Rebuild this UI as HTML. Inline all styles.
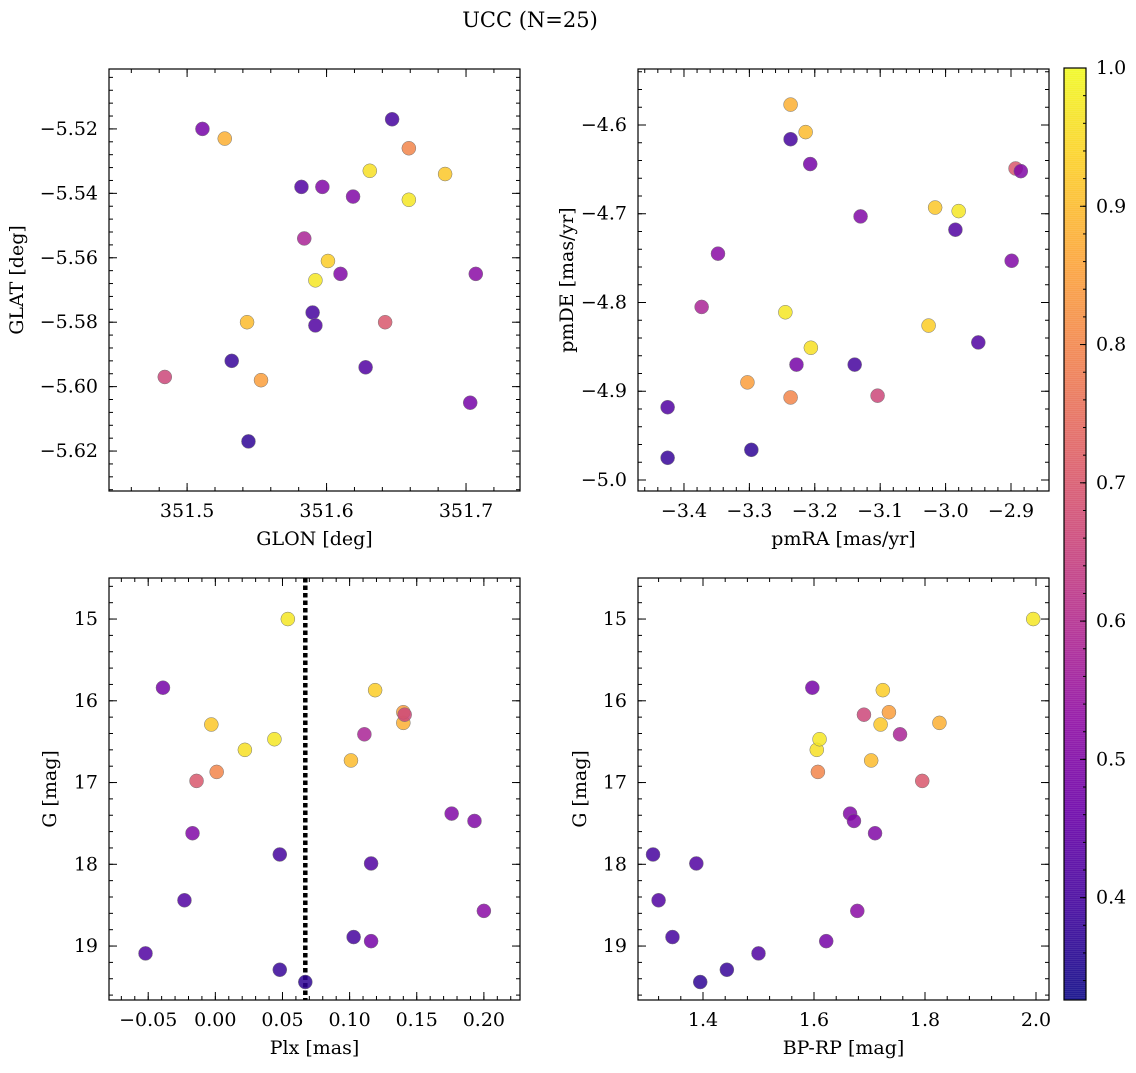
<!DOCTYPE html>
<html><head><meta charset="utf-8"><style>
body{margin:0;background:#fff}
svg text{font-family:"DejaVu Serif","Liberation Serif",serif;fill:#000}
</style></head><body>
<svg id="fig" width="1136" height="1068" xmlns="http://www.w3.org/2000/svg">
<text x="530" y="27" font-size="21" text-anchor="middle">UCC (N=25)</text>
</svg>
<script>
const glon=[351.659,351.685,351.631,351.592,351.601,351.527,351.543,351.553,351.659,351.642,351.484,351.584,351.511,351.597,351.619,351.610,351.707,351.703,351.647,351.582,351.628,351.590,351.592,351.532,351.544];
const glat=[-5.542,-5.534,-5.533,-5.567,-5.561,-5.523,-5.580,-5.598,-5.526,-5.580,-5.597,-5.554,-5.520,-5.538,-5.541,-5.565,-5.565,-5.605,-5.517,-5.538,-5.594,-5.577,-5.581,-5.592,-5.617];
const pmra=[-2.980,-3.016,-3.206,-3.245,-3.026,-3.237,-3.214,-3.303,-3.237,-2.893,-3.104,-3.373,-3.207,-2.885,-3.130,-2.899,-3.348,-3.228,-3.237,-2.985,-3.425,-3.139,-2.950,-3.425,-3.297];
const pmde=[-4.697,-4.693,-4.851,-4.811,-4.826,-4.577,-4.608,-4.890,-4.907,-4.649,-4.905,-4.805,-4.644,-4.652,-4.703,-4.753,-4.745,-4.870,-4.616,-4.718,-4.918,-4.870,-4.845,-4.975,-4.966];
const plx=[0.054,-0.003,0.022,0.044,0.119,0.140,0.101,0.140,0.001,-0.014,0.141,0.111,-0.039,-0.017,0.176,0.193,0.200,0.116,0.048,0.116,-0.023,0.103,-0.052,0.048,0.067];
const gmag=[15.0,16.29,16.6,16.47,15.87,16.27,16.73,16.14,16.87,16.98,16.17,16.41,15.84,17.62,17.38,17.47,18.57,18.94,17.88,17.99,18.44,18.89,19.09,19.29,19.44];
const bprp=[1.995,1.72,1.605,1.61,1.724,1.826,1.703,1.735,1.607,1.795,1.69,1.755,1.597,1.71,1.665,1.672,1.678,1.622,1.31,1.388,1.32,1.345,1.5,1.443,1.395];
const prob=[0.97,0.92,0.96,0.97,0.93,0.88,0.9,0.85,0.8,0.7,0.66,0.58,0.48,0.5,0.5,0.5,0.52,0.48,0.4,0.42,0.42,0.4,0.42,0.38,0.37];
const plxLine=0.067;
const cbTicks=[0.4,0.5,0.6,0.7,0.8,0.9,1.0];

const NS="http://www.w3.org/2000/svg";
const svg=document.getElementById('fig');
function mk(tag,attrs,parent){const e=document.createElementNS(NS,tag);for(const k in attrs)e.setAttribute(k,attrs[k]);(parent||svg).appendChild(e);return e;}
const stops=[[13,8,135],[65,4,157],[106,0,168],[143,13,164],[177,42,144],[204,71,120],[225,100,98],[242,132,75],[252,166,54],[252,206,37],[240,249,33]];
function plasma(t){t=Math.max(0,Math.min(1,t));const f=t*10,i=Math.min(9,Math.floor(f)),r=f-i;const a=stops[i],b=stops[i+1];return 'rgb('+a.map((v,k)=>Math.round(v+(b[k]-v)*r)).join(',')+')';}
const cmin=0.326,cmax=1.0;
function col(v){return plasma((v-cmin)/(cmax-cmin));}
function fmt(v,d){let s=v.toFixed(d);if(parseFloat(s)===0)s=(0).toFixed(d);return s.replace('-','\u2212');}

function panel(name,box,xr,yr,xmaj,xmin,ymaj,ymin,xd,yd,xlab,ylab,xs,ys,inv,ylx){
  const [L,T,R,B]=box;
  const X=v=>L+(v-xr[0])/(xr[1]-xr[0])*(R-L);
  const Y=inv?(v=>T+(v-yr[0])/(yr[1]-yr[0])*(B-T)):(v=>B-(v-yr[0])/(yr[1]-yr[0])*(B-T));
  const g=mk('g',{});
  
  
  function ticks(step,lo,hi,len,lab,d,axis){
    const s=Math.ceil(lo/step-1e-6);
    for(let k=s;k*step<=hi+1e-9;k++){const v=k*step;
      if(axis==='x'){const x=X(v);mk('line',{x1:x,x2:x,y1:B,y2:B-len,stroke:'#000','stroke-width':1},g);mk('line',{x1:x,x2:x,y1:T,y2:T+len,stroke:'#000','stroke-width':1},g);
        if(lab){const t=mk('text',{x:x,y:B+26,'font-size':19,'text-anchor':'middle'},g);t.textContent=fmt(v,d);}}
      else{const y=Y(v);mk('line',{x1:L,x2:L+len,y1:y,y2:y,stroke:'#000','stroke-width':1},g);mk('line',{x1:R,x2:R-len,y1:y,y2:y,stroke:'#000','stroke-width':1},g);
        if(lab){const t=mk('text',{x:L-11,y:y+6,'font-size':19,'text-anchor':'end'},g);t.textContent=fmt(v,d);}}
    }
  }
  const xlo=Math.min(...xr),xhi=Math.max(...xr),ylo=Math.min(...yr),yhi=Math.max(...yr);
  ticks(xmin,xlo,xhi,4,false,0,'x');ticks(xmaj,xlo,xhi,8,true,xd,'x');
  ticks(ymin,ylo,yhi,4,false,0,'y');ticks(ymaj,ylo,yhi,8,true,yd,'y');
  mk('rect',{x:L,y:T,width:R-L,height:B-T,fill:'none',stroke:'#000','stroke-width':1.2},g);
  const xl=mk('text',{x:(L+R)/2,y:B+54,'font-size':19,'text-anchor':'middle'},g);xl.textContent=xlab;
  
  const cy=(T+B)/2,lx=ylx;
  const yl=mk('text',{x:lx,y:cy,'font-size':19,'text-anchor':'middle',transform:'rotate(-90 '+lx+' '+cy+')'},g);yl.textContent=ylab;
  
  return {g,X,Y,xs,ys};
}
function points(p){
  for(let i=0;i<p.xs.length;i++){
    const c=mk('circle',{cx:p.X(p.xs[i]),cy:p.Y(p.ys[i]),r:7,fill:col(prob[i]),'fill-opacity':0.85,stroke:'#777','stroke-width':0.5},p.g);
    
    
  }
}
const p1=panel('glon-glat-panel',[109,69,520,491],[351.444,351.7387],[-5.6324,-5.5014],0.1,0.02,0.02,0.004,1,2,'GLON [deg]','GLAT [deg]',glon,glat,false,23);
points(p1);
const p2=panel('pmra-pmde-panel',[638,69,1049,491],[-3.4703,-2.8419],[-5.0124,-4.5369],0.1,0.02,0.1,0.02,1,1,'pmRA [mas/yr]','pmDE [mas/yr]',pmra,pmde,false,573);
points(p2);
const p3=panel('plx-g-panel',[109,578,520,1000],[-0.0792,0.2269],[14.498,19.66],0.05,0.01,1,0.2,2,0,'Plx [mas]','G [mag]',plx,gmag,true,56);
const vl=mk('line',{x1:p3.X(plxLine),x2:p3.X(plxLine),y1:578,y2:1000,stroke:'#000','stroke-width':4.5,'stroke-dasharray':'4.5,3'},p3.g);


points(p3);
const p4=panel('bprp-g-panel',[638,578,1049,1000],[1.2829,2.0234],[14.498,19.66],0.2,0.04,1,0.2,1,0,'BP-RP [mag]','G [mag]',bprp,gmag,true,586);
points(p4);

// colorbar
const cb=mk('g',{});


const CL=1064,CR=1086,CT=68,CB=1000;
const CY=v=>CB-(v-cmin)/(cmax-cmin)*(CB-CT);
for(let y=CT;y<CB;y+=2){const v=cmin+(CB-y-1)/(CB-CT)*(cmax-cmin);mk('rect',{x:CL,y:y,width:CR-CL,height:2.5,fill:col(v),'fill-opacity':0.85},cb);}
mk('rect',{x:CL,y:CT,width:CR-CL,height:CB-CT,fill:'none',stroke:'#000','stroke-width':1.2},cb);
for(let k=17;k<=50;k++){const v=k*0.02;if(v<cmin)continue;const y=CY(v);mk('line',{x1:CR,x2:CR-3,y1:y,y2:y,stroke:'#000'},cb);}
cbTicks.forEach(v=>{const y=CY(v);mk('line',{x1:CR,x2:CR-6,y1:y,y2:y,stroke:'#000'},cb);const t=mk('text',{x:CR+10,y:y+6,'font-size':19},cb);t.textContent=v.toFixed(1);});
</script>
</body></html>
